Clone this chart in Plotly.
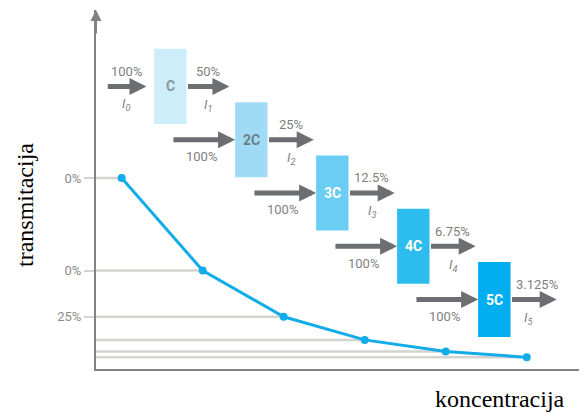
import plotly.graph_objects as go

# data
concentration = [0, 1, 2, 3, 4, 5]
transmission = [100, 50, 25, 12.5, 6.25, 3.125]
y_tickvals = [100, 50, 25]
y_ticktext = ["0%", "0%", "25%"]

box_labels = ["C", "2C", "3C", "4C", "5C"]
out_labels = ["50%", "25%", "12.5%", "6.75%", "3.125%"]
in_label = "100%"

BOX_FILL = ["#cdedfb", "#a0dbf6", "#6bcdf3", "#2cbdee", "#00aeef"]
BOX_TEXT = ["#8a979e", "#6f7e86", "white", "white", "white"]
ARROW = "#6d6e71"
TXT = "#7f7f7f"
LINE = "#12ade8"
GRID = "#d3d3d0"
AXIS = "#808286"

# page body has an 8px margin, so the figure is made that much smaller
OFF = 8
W, H = 587 - OFF, 412 - OFF
X_RANGE = [-0.317, 5.744]
Y_RANGE = [-3.24, 190.8]
L, R, T, B = 96 - OFF, 0, 10 - OFF, 43

fig = go.Figure()

shapes = []
# horizontal guide lines from the axis to each point
for x, y in zip(concentration, transmission):
    shapes.append(dict(type="line", xref="x", yref="y", x0=X_RANGE[0], x1=x,
                       y0=y, y1=y, line=dict(color=GRID, width=2.5), layer="below"))

fig.add_trace(go.Scatter(
    x=concentration, y=transmission, mode="lines+markers",
    line=dict(color=LINE, width=3), marker=dict(color=LINE, size=8),
    showlegend=False, hoverinfo="skip",
))

annotations = []
font = dict(family="Roboto, Arial, sans-serif", size=13, color=TXT)


def arrow(x_tail, x_tip, y):
    return dict(x=x_tip, y=y, ax=x_tail, ay=y, xref="x", yref="y", axref="x", ayref="y",
                text="", showarrow=True, arrowhead=2, arrowwidth=5, arrowsize=0.68,
                arrowcolor=ARROW, standoff=0)


for i, lab in enumerate(box_labels):
    k = i + 1
    cx = k - 0.4
    cy = 149.5 - 28.8 * i
    left, right = cx - 0.2, cx + 0.2
    shapes.append(dict(type="rect", xref="x", yref="y", x0=left, x1=right,
                       y0=cy - 20.3, y1=cy + 20.3, fillcolor=BOX_FILL[i], line_width=0))
    annotations.append(dict(x=cx, y=cy, xref="x", yref="y", text=f"<b>{lab}</b>",
                            showarrow=False, font=dict(family="Roboto, Arial, sans-serif",
                                                       size=14, color=BOX_TEXT[i])))
    # input arrow
    if i == 0:
        tail, tip = left - 0.59, left - 0.094
    else:
        tail, tip = left - 0.78, left
    annotations.append(arrow(tail, tip, cy))
    mid_in = (tail + tip) / 2
    if i == 0:
        annotations.append(dict(x=mid_in, y=cy, xref="x", yref="y", text=in_label,
                                showarrow=False, yshift=15, font=font))
        annotations.append(dict(x=mid_in, y=cy, xref="x", yref="y", text="<i>I<sub>0</sub></i>",
                                showarrow=False, yshift=-18, font=font))
    else:
        annotations.append(dict(x=mid_in - 0.03, y=cy, xref="x", yref="y", text=in_label,
                                showarrow=False, yshift=-17, font=font))
    # output arrow
    o_tip = right + (0.53 if i == 0 else 0.57)
    annotations.append(arrow(right, o_tip, cy))
    mid_out = (right + o_tip) / 2
    annotations.append(dict(x=mid_out + (0.04 if i == 4 else 0), y=cy, xref="x", yref="y",
                            text=out_labels[i], showarrow=False, yshift=15, font=font))
    annotations.append(dict(x=mid_out - (0.06 if i == 4 else 0), y=cy, xref="x", yref="y",
                            text=f"<i>I<sub>{k}</sub></i>", showarrow=False, yshift=-19, font=font))

# y-axis arrow head
annotations.append(dict(x=0, y=1, xref="paper", yref="paper", ax=0, ay=25, axref="pixel",
                        ayref="pixel", text="", showarrow=True, arrowhead=2, arrowwidth=2,
                        arrowsize=1.1, arrowcolor=AXIS, standoff=0))

serif = dict(family="Liberation Serif, Times New Roman, serif", size=24, color="black")
pw, ph = W - L - R, H - T - B


def px_to_paper(px, py):
    return (px - OFF - L) / pw, (H - B - (py - OFF)) / ph


tx, ty = px_to_paper(25, 205)
annotations.append(dict(x=tx, y=ty, xref="paper", yref="paper", text="transmitacija",
                        textangle=-90, showarrow=False, font=serif,
                        xanchor="center", yanchor="middle"))
kx, ky = px_to_paper(500, 399)
annotations.append(dict(x=kx, y=ky, xref="paper", yref="paper", text="koncentracija",
                        showarrow=False, font=serif, xanchor="center", yanchor="middle"))

fig.update_layout(
    width=W, height=H,
    margin=dict(l=L, r=R, t=T, b=B),
    plot_bgcolor="white", paper_bgcolor="white",
    shapes=shapes, annotations=annotations,
    xaxis=dict(range=X_RANGE, showgrid=False, zeroline=False, showticklabels=False,
               showline=True, linecolor=AXIS, linewidth=2, ticks=""),
    yaxis=dict(range=Y_RANGE, showgrid=False, zeroline=False, showline=True,
               linecolor=AXIS, linewidth=2, tickvals=y_tickvals, ticktext=y_ticktext,
               ticks="outside", ticklen=10, tickwidth=2, tickcolor=GRID,
               tickfont=dict(family="Roboto, Arial, sans-serif", size=13, color="#8a8a8a")),
)

fig.write_html("out.html")
